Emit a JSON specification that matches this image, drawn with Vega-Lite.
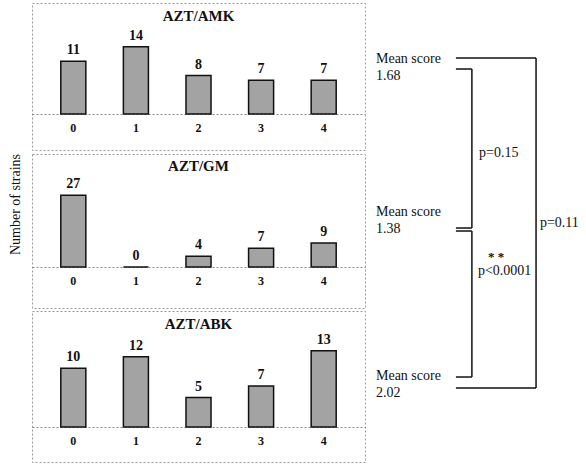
{
  "$schema": "https://vega.github.io/schema/vega-lite/v6.json",
  "padding": {"left": 7, "top": 2, "right": 0, "bottom": 0},
  "background": "white",
  "config": {
    "font": "Liberation Serif",
    "view": {"stroke": "#999", "strokeDash": [2, 2], "strokeWidth": 1},
    "concat": {"spacing": 1},
    "title": {"font": "Liberation Serif", "fontSize": 15, "fontWeight": "bold", "color": "#111"}
  },
  "datasets": {
    "strains": [
      {"combo": "AZT/AMK", "score": "0", "n": 11},
      {"combo": "AZT/AMK", "score": "1", "n": 14},
      {"combo": "AZT/AMK", "score": "2", "n": 8},
      {"combo": "AZT/AMK", "score": "3", "n": 7},
      {"combo": "AZT/AMK", "score": "4", "n": 7},
      {"combo": "AZT/GM", "score": "0", "n": 27},
      {"combo": "AZT/GM", "score": "1", "n": 0},
      {"combo": "AZT/GM", "score": "2", "n": 4},
      {"combo": "AZT/GM", "score": "3", "n": 7},
      {"combo": "AZT/GM", "score": "4", "n": 9},
      {"combo": "AZT/ABK", "score": "0", "n": 10},
      {"combo": "AZT/ABK", "score": "1", "n": 12},
      {"combo": "AZT/ABK", "score": "2", "n": 5},
      {"combo": "AZT/ABK", "score": "3", "n": 7},
      {"combo": "AZT/ABK", "score": "4", "n": 13}
    ],
    "brackets": [
      {"x": 40.7, "x2": 77.8, "y": 11.93, "y2": 11.93},
      {"x": 77.8, "x2": 77.8, "y": 11.93, "y2": 83.51},
      {"x": 40.7, "x2": 77.8, "y": 83.51, "y2": 83.51},
      {"x": 40.7, "x2": 48.1, "y": 14.32, "y2": 14.32},
      {"x": 48.1, "x2": 48.1, "y": 14.32, "y2": 48.81},
      {"x": 40.7, "x2": 48.1, "y": 48.81, "y2": 48.81},
      {"x": 40.7, "x2": 48.1, "y": 49.46, "y2": 49.46},
      {"x": 48.1, "x2": 48.1, "y": 49.46, "y2": 81.13},
      {"x": 40.7, "x2": 48.1, "y": 81.13, "y2": 81.13}
    ],
    "means": [
      {"label": "Mean score\n1.68", "x": 3.7, "y": 10.63},
      {"label": "Mean score\n1.38", "x": 3.7, "y": 43.82},
      {"label": "Mean score\n2.02", "x": 3.7, "y": 79.39}
    ],
    "pvals": [
      {"label": "p=0.15", "x": 51.4, "y": 32.54},
      {"label": "p=0.11", "x": 79.6, "y": 47.72},
      {"label": "p<0.0001", "x": 50.9, "y": 58.13}
    ],
    "stars": [
      {"label": "* *", "x": 55.6, "y": 55.1}
    ]
  },
  "hconcat": [
    {
      "vconcat": [
        {
          "width": 333, "height": 147,
          "title": {"text": "AZT/AMK", "offset": -21, "anchor": "middle"},
          "data": {"name": "strains"},
          "transform": [{"filter": "datum.combo === 'AZT/AMK'"}],
          "encoding": {
            "x": {"field": "score", "type": "ordinal", "scale": {"paddingInner": 0.6, "paddingOuter": 0.46},
              "axis": {"title": null, "orient": "bottom", "offset": -36, "domainDash": [2, 2], "domainColor": "#888", "ticks": false, "tickSize": 0, "labelPadding": 8, "labelAngle": 0, "labelFont": "Liberation Serif", "labelFontSize": 12, "labelFontWeight": "bold", "labelColor": "#111"}},
            "y": {"field": "n", "type": "quantitative", "scale": {"domain": [-7.5, 23.1], "nice": false}, "axis": null}
          },
          "layer": [
            {"mark": {"type": "bar", "fill": "#a3a3a3", "stroke": "#111", "strokeWidth": 1.5}},
            {"mark": {"type": "text", "baseline": "bottom", "dy": -4, "font": "Liberation Serif", "fontSize": 14, "fontWeight": "bold", "color": "#111"}, "encoding": {"text": {"field": "n"}}}
          ]
        },
        {
          "width": 333, "height": 154,
          "title": {"text": "AZT/GM", "offset": -21, "anchor": "middle"},
          "data": {"name": "strains"},
          "transform": [{"filter": "datum.combo === 'AZT/GM'"}],
          "encoding": {
            "x": {"field": "score", "type": "ordinal", "scale": {"paddingInner": 0.6, "paddingOuter": 0.46},
              "axis": {"title": null, "orient": "bottom", "offset": -41, "domainDash": [2, 2], "domainColor": "#888", "ticks": false, "tickSize": 0, "labelPadding": 8, "labelAngle": 0, "labelFont": "Liberation Serif", "labelFontSize": 12, "labelFontWeight": "bold", "labelColor": "#111"}},
            "y": {"field": "n", "type": "quantitative", "scale": {"domain": [-15.5, 42.6], "nice": false},
              "axis": {"title": "Number of strains", "labels": false, "ticks": false, "domain": false, "grid": false, "titleFont": "Liberation Serif", "titleFontSize": 14, "titleFontWeight": "normal", "titleColor": "#111", "titlePadding": 10, "titleY": 50}}
          },
          "layer": [
            {"mark": {"type": "bar", "fill": "#a3a3a3", "stroke": "#111", "strokeWidth": 1.5}},
            {"mark": {"type": "text", "baseline": "bottom", "dy": -4, "font": "Liberation Serif", "fontSize": 14, "fontWeight": "bold", "color": "#111"}, "encoding": {"text": {"field": "n"}}}
          ]
        },
        {
          "width": 333, "height": 151,
          "title": {"text": "AZT/ABK", "offset": -21, "anchor": "middle"},
          "data": {"name": "strains"},
          "transform": [{"filter": "datum.combo === 'AZT/ABK'"}],
          "encoding": {
            "x": {"field": "score", "type": "ordinal", "scale": {"paddingInner": 0.6, "paddingOuter": 0.46},
              "axis": {"title": null, "orient": "bottom", "offset": -35, "domainDash": [2, 2], "domainColor": "#888", "ticks": false, "tickSize": 0, "labelPadding": 8, "labelAngle": 0, "labelFont": "Liberation Serif", "labelFontSize": 12, "labelFontWeight": "bold", "labelColor": "#111"}},
            "y": {"field": "n", "type": "quantitative", "scale": {"domain": [-6.0, 19.8], "nice": false}, "axis": null}
          },
          "layer": [
            {"mark": {"type": "bar", "fill": "#a3a3a3", "stroke": "#111", "strokeWidth": 1.5}},
            {"mark": {"type": "text", "baseline": "bottom", "dy": -4, "font": "Liberation Serif", "fontSize": 14, "fontWeight": "bold", "color": "#111"}, "encoding": {"text": {"field": "n"}}}
          ]
        }
      ]
    },
    {
      "width": 216, "height": 461,
      "view": {"stroke": null},
      "layer": [
        {
          "data": {"name": "brackets"},
          "mark": {"type": "rule", "color": "#111", "strokeWidth": 1.5},
          "encoding": {
            "x": {"field": "x", "type": "quantitative", "scale": {"domain": [0, 100], "nice": false, "zero": false}, "axis": null},
            "x2": {"field": "x2"},
            "y": {"field": "y", "type": "quantitative", "scale": {"domain": [0, 100], "reverse": true, "nice": false, "zero": false}, "axis": null},
            "y2": {"field": "y2"}
          }
        },
        {
          "data": {"name": "means"},
          "mark": {"type": "text", "align": "left", "baseline": "top", "lineBreak": "\n", "lineHeight": 17, "font": "Liberation Serif", "fontSize": 14, "color": "#111"},
          "encoding": {
            "x": {"field": "x", "type": "quantitative", "scale": {"domain": [0, 100], "nice": false, "zero": false}, "axis": null},
            "y": {"field": "y", "type": "quantitative", "scale": {"domain": [0, 100], "reverse": true, "nice": false, "zero": false}, "axis": null},
            "text": {"field": "label"}
          }
        },
        {
          "data": {"name": "pvals"},
          "mark": {"type": "text", "align": "left", "baseline": "middle", "font": "Liberation Serif", "fontSize": 14, "color": "#111"},
          "encoding": {
            "x": {"field": "x", "type": "quantitative", "scale": {"domain": [0, 100], "nice": false, "zero": false}, "axis": null},
            "y": {"field": "y", "type": "quantitative", "scale": {"domain": [0, 100], "reverse": true, "nice": false, "zero": false}, "axis": null},
            "text": {"field": "label"}
          }
        },
        {
          "data": {"name": "stars"},
          "mark": {"type": "text", "align": "left", "baseline": "middle", "font": "Liberation Serif", "fontSize": 13, "fontWeight": "bold", "color": "#111"},
          "encoding": {
            "x": {"field": "x", "type": "quantitative", "scale": {"domain": [0, 100], "nice": false, "zero": false}, "axis": null},
            "y": {"field": "y", "type": "quantitative", "scale": {"domain": [0, 100], "reverse": true, "nice": false, "zero": false}, "axis": null},
            "text": {"field": "label"}
          }
        }
      ]
    }
  ],
  "spacing": 2
}
